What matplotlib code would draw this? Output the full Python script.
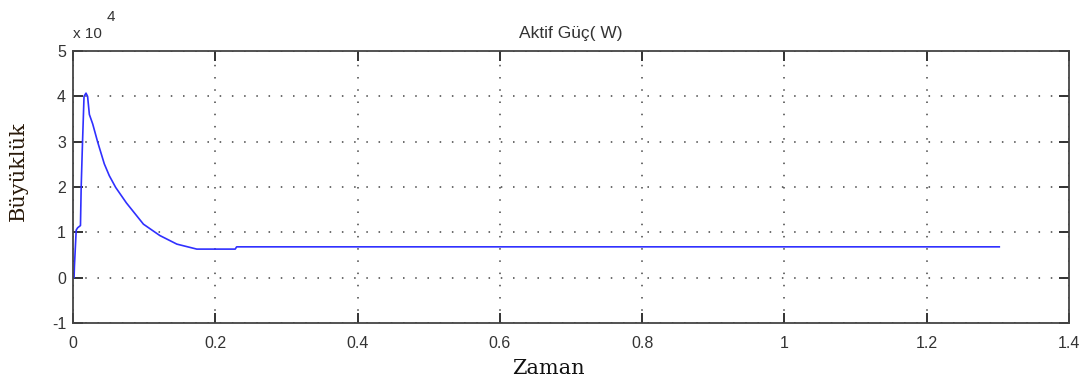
import matplotlib
matplotlib.use("Agg")
import matplotlib.pyplot as plt
from matplotlib.ticker import FuncFormatter, MultipleLocator

# Active power response (W) versus time (s)
zaman = [0.0, 0.0015, 0.002, 0.0045, 0.0065, 0.0105, 0.0115, 0.0131, 0.0155,
         0.0183, 0.0205, 0.023, 0.0277, 0.0347, 0.044, 0.051, 0.060, 0.075,
         0.099, 0.122, 0.146, 0.174, 0.228, 0.230, 0.600, 1.000, 1.302]
aktif_guc = [0, 0, 2500, 10500, 11000, 11500, 20000, 28500, 40000,
             40700, 40000, 36000, 33900, 29900, 25100, 22500, 19900, 16500,
             11800, 9300, 7400, 6300, 6300, 6800, 6800, 6800, 6800]

x_ticks = [0, 0.2, 0.4, 0.6, 0.8, 1.0, 1.2, 1.4]
x_labels = ["0", "0.2", "0.4", "0.6", "0.8", "1", "1.2", "1.4"]

fig = plt.figure(figsize=(10.89, 3.83), dpi=100)
ax = fig.add_axes([73 / 1089, 60 / 383, 996 / 1089, 272 / 383])

ax.plot(zaman, aktif_guc, color="#3030ff", linewidth=1.2)

ax.set_xlim(0, 1.4)
ax.set_ylim(-1e4, 5e4)
ax.set_xticks(x_ticks)
ax.set_xticklabels(x_labels)
ax.yaxis.set_major_locator(MultipleLocator(1e4))
ax.yaxis.set_major_formatter(FuncFormatter(lambda v, p: f"{v / 1e4:g}"))

ax.grid(True, linestyle=(0, (1, 7)), color="#444444", linewidth=1.1)
ax.tick_params(direction="in", top=True, right=True, length=7, width=1.4,
               labelsize=11.5, colors="#333333")
ax.tick_params(axis="x", pad=9)
ax.tick_params(axis="y", pad=5)
for s in ax.spines.values():
    s.set_linewidth(1.3)
    s.set_color("#444444")

sans = "Liberation Sans"
for lab in ax.get_xticklabels() + ax.get_yticklabels():
    lab.set_fontfamily(sans)

# Exponent marker for the y axis, placed in figure pixels
ax.text(87, 383 - 34, "x 10", transform=None, fontsize=11, family=sans,
        ha="center", va="center", color="#333333")
ax.text(107, 383 - 17, "4", transform=None, fontsize=11, family=sans,
        ha="left", va="center", color="#333333")

ax.text(0.5, 1.066, "Aktif Güç( W)", transform=ax.transAxes, fontsize=12.5,
        family=sans, ha="center", va="center", color="#333333")

ax.set_xlabel("Zaman", fontsize=15, family="DejaVu Serif", color="#111111")
ax.xaxis.set_label_coords(0.477, -0.132)
ax.set_ylabel("Büyüklük", fontsize=15, family="DejaVu Serif", color="#2a1a0a")
ax.yaxis.set_label_coords(-0.045, 0.559)

fig.savefig("out.png", dpi=100)
